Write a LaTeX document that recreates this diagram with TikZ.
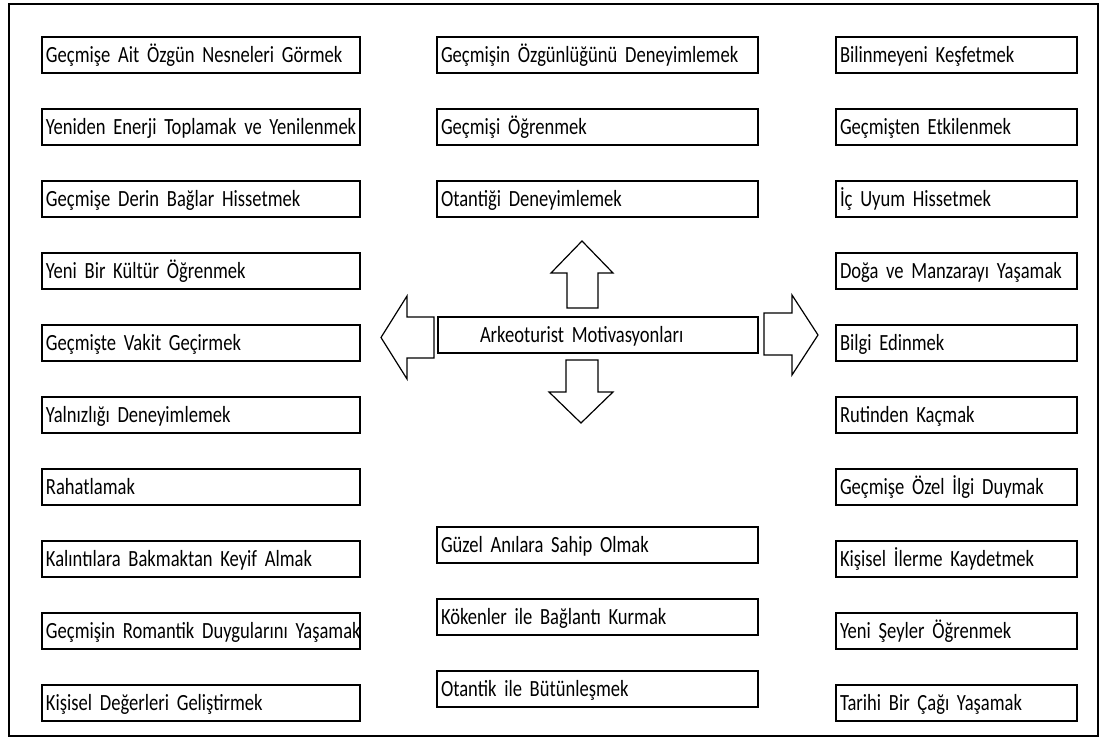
\documentclass[tikz,border=0pt]{standalone}
\usepackage{fontspec}
\setmainfont{Carlito}[FakeStretch = 0.8]
\usepackage{tikz}
\usetikzlibrary{positioning}
\hyphenpenalty=10000
\newcommand{\boxfont}{\fontsize{11.6}{14}\selectfont\spaceskip=1.6pt\relax}

\begin{document}
\begin{tikzpicture}[
    x = 0.5pt, y = -0.5pt,
    every node/.style = {font = \boxfont},
    motive/.style = {draw, line width = 1pt, rectangle, minimum height = 18pt,
        inner xsep = 2pt, text height = 9pt, text depth = 1.5pt, align = left},
    leftbox/.style = {motive, text width = 155pt},
    midbox/.style = {motive, text width = 156.5pt},
    rightbox/.style = {motive, text width = 116.5pt},
    bigarrow/.style = {draw, line width = 0.6pt, line join = miter},
    node distance = 17pt
    ]
    \useasboundingbox (0,0) rectangle (1100,738);
    \draw[line width = 0.8pt] (9,4) rectangle (1098,736);

    % left column
    \node[leftbox] (l1) at (201,55) {Geçmişe Ait Özgün Nesneleri Görmek};
    \node[leftbox, below = of l1] (l2) {\mbox{Yeniden Enerji Toplamak ve Yenilenmek}};
    \node[leftbox, below = of l2] (l3) {Geçmişe Derin Bağlar Hissetmek};
    \node[leftbox, below = of l3] (l4) {Yeni Bir Kültür Öğrenmek};
    \node[leftbox, below = of l4] (l5) {Geçmişte Vakit Geçirmek};
    \node[leftbox, below = of l5] (l6) {Yalnızlığı Deneyimlemek};
    \node[leftbox, below = of l6] (l7) {Rahatlamak};
    \node[leftbox, below = of l7] (l8) {Kalıntılara Bakmaktan Keyif Almak};
    \node[leftbox, below = of l8] (l9) {\mbox{Geçmişin Romantik Duygularını Yaşamak}};
    \node[leftbox, below = of l9] (l10) {Kişisel Değerleri Geliştirmek};

    % middle column
    \node[midbox] (m1) at (597.5,55) {Geçmişin Özgünlüğünü Deneyimlemek};
    \node[midbox, below = of m1] (m2) {Geçmişi Öğrenmek};
    \node[midbox, below = of m2] (m3) {Otantiği Deneyimlemek};
    \node[midbox] (m8) at (597.5,545) {Güzel Anılara Sahip Olmak};
    \node[midbox, below = of m8] (m9) {Kökenler ile Bağlantı Kurmak};
    \node[midbox, below = of m9] (m10) {Otantik ile Bütünleşmek};

    % right column
    \node[rightbox] (r1) at (956.5,55) {Bilinmeyeni Keşfetmek};
    \node[rightbox, below = of r1] (r2) {Geçmişten Etkilenmek};
    \node[rightbox, below = of r2] (r3) {İç Uyum Hissetmek};
    \node[rightbox, below = of r3] (r4) {Doğa ve Manzarayı Yaşamak};
    \node[rightbox, below = of r4] (r5) {Bilgi Edinmek};
    \node[rightbox, below = of r5] (r6) {Rutinden Kaçmak};
    \node[rightbox, below = of r6] (r7) {Geçmişe Özel İlgi Duymak};
    \node[rightbox, below = of r7] (r8) {Kişisel İlerme Kaydetmek};
    \node[rightbox, below = of r8] (r9) {Yeni Şeyler Öğrenmek};
    \node[rightbox, below = of r9] (r10) {Tarihi Bir Çağı Yaşamak};

    % centre and its four arrows
    \node[motive, inner xsep = 21pt, text width = 118pt] (center) at (598,335)
        {Arkeoturist Motivasyonları};
    \draw[bigarrow] (567,308) -- (567,273) -- (551,273) -- (582,241)
        -- (613,273) -- (598,273) -- (598,308) -- cycle;
    \draw[bigarrow] (566,360) -- (598,360) -- (598,392) -- (613,392)
        -- (581,423) -- (549,392) -- (566,392) -- cycle;
    \draw[bigarrow] (434,317) -- (407,317) -- (407,296) -- (381,337.5)
        -- (407,379) -- (407,358) -- (434,358) -- cycle;
    \draw[bigarrow] (764,313) -- (792,313) -- (792,295) -- (818,335)
        -- (792,375) -- (792,355) -- (764,355) -- cycle;
\end{tikzpicture}
\end{document}
